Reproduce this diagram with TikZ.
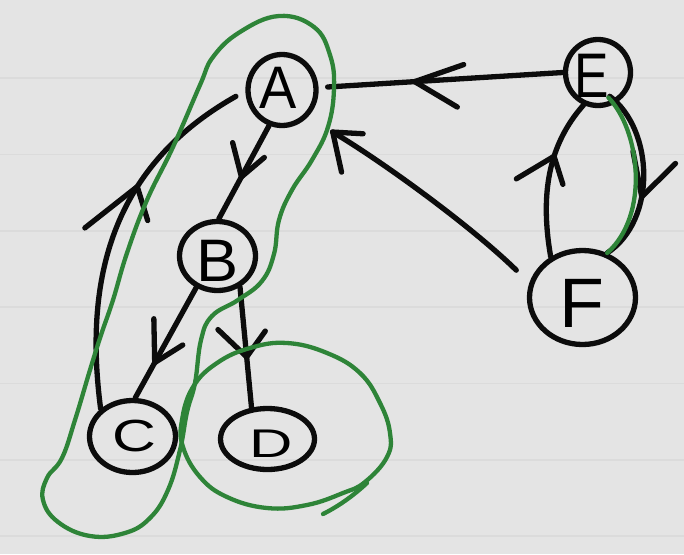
\documentclass[tikz,border=0pt]{standalone}
\usepackage{fontspec}
\setmainfont{Liberation Sans}
\usepackage{graphicx}
\usetikzlibrary{shapes.geometric,decorations.markings}
\definecolor{paper}{RGB}{228,228,228}
\definecolor{rulecol}{RGB}{219,219,219}
\definecolor{ink}{RGB}{12,12,12}
\definecolor{pen}{RGB}{46,132,56}
\tikzset{
  inkline/.style={draw=ink,line width=5.3pt,line cap=round,line join=round},
  vertex/.style={ellipse,draw=ink,line width=5.3pt,inner sep=0pt},
  letter/.style={inner sep=0pt},
  penline/.style={draw=pen,line width=4.3pt,line cap=round,line join=round},
  ah/.style n args={5}{postaction={decorate},decoration={markings,
      mark=at position #1 with {\draw[inkline] (#2pt,#3pt) -- (0pt,0pt) -- (#4pt,#5pt);}}},
  paperrule/.style={draw=rulecol,line width=1.2pt}
}
\newcommand{\letr}[3]{\scalebox{#1}[1]{\fontsize{#2}{#2}\selectfont #3}}
\begin{document}
\begin{tikzpicture}[x=1pt,y=-1pt]
\fill[paper] (0,0) rectangle (684,554);
\useasboundingbox (0,0) rectangle (684,554);
\foreach \yy in {78,154.5,231,307,383.5,460,536} \draw[paperrule] (0,\yy) -- (684,\yy);

% nodes
\node[vertex,minimum width=68pt,minimum height=71pt] (A) at (282,90) {};
\node[vertex,minimum width=76pt,minimum height=69pt] (B) at (217.5,256) {};
\node[vertex,minimum width=86pt,minimum height=72pt] (C) at (132.5,436.5) {};
\node[vertex,minimum width=94pt,minimum height=61pt] (D) at (267.5,439) {};
\node[vertex,minimum width=65pt,minimum height=66pt] (E) at (598,72.5) {};
\node[vertex,minimum width=106pt,minimum height=94pt] (F) at (582.5,297.5) {};
\node[letter] (Al) at ([shift={(-4,-2)}]A.center) {\letr{0.93}{60}{A}};
\node[letter] (Bl) at ([shift={(0,5)}]B.center) {\letr{1.05}{60}{B}};
\node[letter] (Cl) at ([shift={(2,0)}]C.center) {\letr{1.35}{45}{C}};
\node[letter] (Dl) at ([shift={(4,5)}]D.center) {\letr{1.5}{40}{D}};
\node[letter] (El) at ([shift={(-6,3)}]E.center) {\letr{0.82}{63}{E}};
\node[letter] (Fl) at ([shift={(-1,6)}]F.center) {\letr{1.05}{70}{F}};

% edges
\draw[inkline, ah={0.63}{-50}{-14}{-41}{28}] (E.180) -- ([shift={(9,-3)}]A.east);
\draw[inkline, ah={0.999}{-27}{-14}{-28}{30}] ([shift={(-16,-6)}]F.157) .. controls (470,225) and (380,160) .. ([shift={(22,18)}]A.-40);
\draw[inkline, ah={0.55}{-26}{-24}{-28}{11}] (A.-110) -- (B.88);
\draw[inkline, ah={0.68}{-38}{-22}{-29}{16}] (B.-124) -- (C.86);
\draw[inkline, ah={0.58}{-30}{-26}{-24}{21}] (B.-54) -- (D.117);
\draw[inkline, ah={0.63}{-63}{22}{-23}{-27}] (C.139) .. controls (85,290) and (105,170) .. ([shift={(-10,0)}]A.190);
\draw[inkline, ah={0.63}{-33}{29}{-24}{-17}] (F.128) .. controls (540,195) and (548,145) .. (E.-114);
\draw[inkline, ah={0.62}{-43}{-17}{-39}{27}] ([shift={(-6,-7)}]E.-60) .. controls (654,130) and (657,220) .. (F.61);

% green strongly connected components
\draw[penline] ([shift={(-10,-4)}]E.-55) .. controls (640,130) and (650,215) .. (F.61);
\draw[penline] plot[smooth cycle, tension=0.7] coordinates {
  (279,16) (314,27) (330,55) (334,88) (328,127) (312,160) (292,190) (279,220)
  (274,254) (262,281) (238,300) (212,316) (201,340) (195,383) (187,412) (180,450)
  (168,490) (150,518) (125,533) (90,536) (58,522) (43,500) (47,478) (62,458)
  (75,420) (90,370) (101,335) (113,300) (127,253) (147,200) (173,147) (200,85)
  (213,57) (240,32)};
\draw[penline] plot[smooth cycle, tension=0.7] coordinates {
  (387,457) (390,433) (380,403) (360,373) (327,353) (287,343) (250,348) (217,363)
  (193,387) (182,420) (183,447) (200,477) (227,497) (267,508) (307,505) (343,493)
  (365,482)};
\draw[penline] (367,483) .. controls (352,497) and (337,507) .. (323,514);
\end{tikzpicture}
\end{document}
